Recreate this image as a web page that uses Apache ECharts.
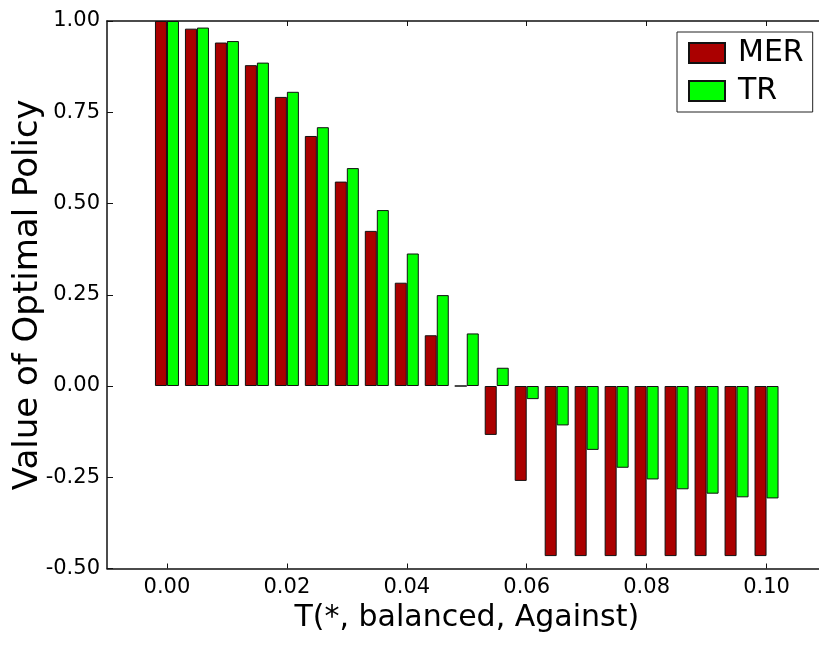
<!DOCTYPE html>
<html>
<head>
<meta charset="utf-8">
<script src="https://cdn.jsdelivr.net/npm/echarts@6/dist/echarts.min.js"></script>
<style>
html,body{margin:0;padding:0;background:#fff;}
#chart{width:819px;height:646px;}
</style>
</head>
<body>
<div id="chart"></div>
<script>
const xValues = [0.000,0.005,0.010,0.015,0.020,0.025,0.030,0.035,0.040,0.045,0.050,0.055,0.060,0.065,0.070,0.075,0.080,0.085,0.090,0.095,0.100];
const merValues = [1.000,0.979,0.941,0.879,0.792,0.685,0.560,0.425,0.283,0.139,0.000,-0.134,-0.260,-0.466,-0.466,-0.466,-0.466,-0.466,-0.466,-0.466,-0.466];
const trValues = [1.000,0.982,0.945,0.886,0.806,0.709,0.597,0.482,0.363,0.249,0.144,0.050,-0.036,-0.108,-0.175,-0.224,-0.256,-0.283,-0.295,-0.305,-0.308];
const xTicks = [0.00,0.02,0.04,0.06,0.08,0.10];
const yTicks = [-0.50,-0.25,0.00,0.25,0.50,0.75,1.00];

const FONT = 'DejaVu Sans';
const chart = echarts.init(document.getElementById('chart'), null, {renderer:'canvas'});
const axisLine = {show:true, onZero:false, lineStyle:{color:'#111', width:1.5}};
const option = {
  backgroundColor:'#fff',
  animation:false,
  grid:{left:107, top:21, right:-7.5, bottom:77.5, show:false, containLabel:false, outerBoundsMode:'none'},
  legend:{
    orient:'vertical', left:677, top:32,
    padding:[6,9,6,11], itemGap:8,
    itemWidth:36, itemHeight:20, icon:'rect',
    borderColor:'#222', borderWidth:1, borderRadius:0,
    textStyle:{fontFamily:FONT, fontSize:30, lineHeight:30, color:'#000', padding:[0,0,0,8]},
    data:['MER','TR']
  },
  xAxis:[{
    type:'value', min:-0.01, max:0.11, position:'bottom',
    name:'T(*, balanced, Against)', nameLocation:'middle', nameGap:35, nameMoveOverlap:false,
    nameTextStyle:{fontFamily:FONT, fontSize:30, color:'#000'},
    axisLine:axisLine,
    axisTick:{show:true, inside:true, length:5, lineStyle:{color:'#111'}, customValues:xTicks},
    axisLabel:{fontFamily:FONT, fontSize:21, color:'#000', margin:9, customValues:xTicks,
      formatter:v=>v.toFixed(2)},
    splitLine:{show:false}
  },{
    type:'value', min:-0.01, max:0.11, position:'top',
    axisLine:axisLine,
    axisTick:{show:true, inside:true, length:5, lineStyle:{color:'#111'}, customValues:xTicks},
    axisLabel:{show:false}, splitLine:{show:false}
  }],
  yAxis:[{
    type:'value', min:-0.5, max:1.0, interval:0.25, position:'left',
    name:'Value of Optimal Policy', nameLocation:'middle', nameGap:62, nameRotate:90, nameMoveOverlap:false,
    nameTextStyle:{fontFamily:FONT, fontSize:34, color:'#000'},
    axisLine:axisLine,
    axisTick:{show:true, inside:true, length:6, lineStyle:{color:'#111'}},
    axisLabel:{fontFamily:FONT, fontSize:21, color:'#000', margin:7,
      formatter:v=>v.toFixed(2)},
    splitLine:{show:false}
  },{
    type:'value', min:-0.5, max:1.0, interval:0.25, position:'right',
    axisLine:axisLine, axisTick:{show:true, inside:true, length:6},
    axisLabel:{show:false}, splitLine:{show:false}
  }],
  series:[{
    name:'MER', type:'bar', xAxisIndex:0, yAxisIndex:0,
    barWidth:12, barGap:'0%',
    itemStyle:{color:'#aa0000', borderColor:'#111', borderWidth:1},
    data:xValues.map((x,i)=>[x, merValues[i]])
  },{
    name:'TR', type:'bar', xAxisIndex:0, yAxisIndex:0,
    barWidth:12, barGap:'0%',
    itemStyle:{color:'#00ff00', borderColor:'#111', borderWidth:1},
    data:xValues.map((x,i)=>[x, trValues[i]])
  }]
};
chart.setOption(option);
</script>
</body>
</html>
